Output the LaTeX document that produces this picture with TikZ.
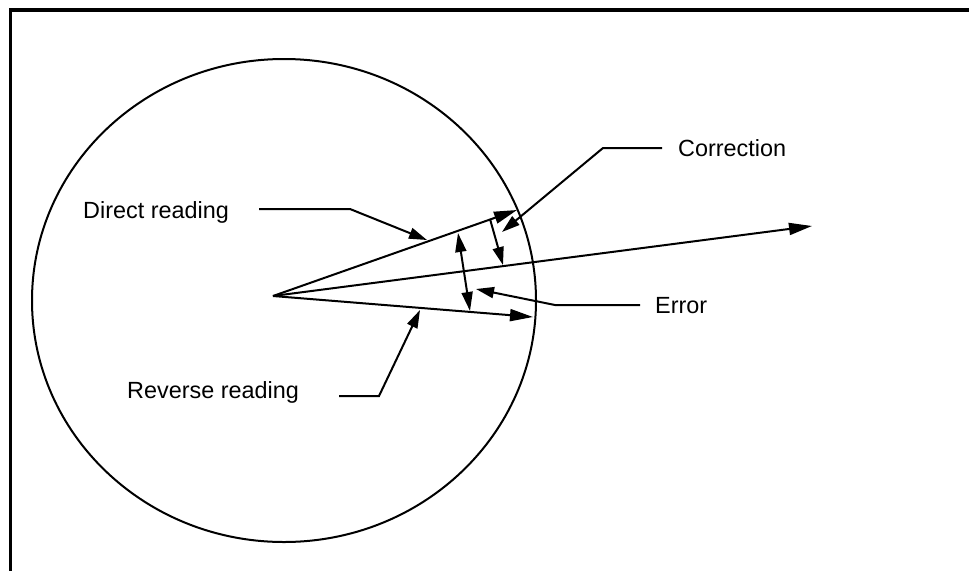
\documentclass[tikz,border=0pt]{standalone}
\usepackage{fontspec}
\setmainfont{Liberation Sans}
\usetikzlibrary{positioning}
\usetikzlibrary{arrows.meta}

\tikzset{
  lbl/.style={inner sep=0pt,anchor=base west,font=\fontsize{23.4}{28}\selectfont},
  ray/.style={line width=2pt,-{Triangle[length=23pt,width=12pt]}},
  lead/.style={line width=2pt,-{Triangle[length=18pt,width=11pt]}},
  twoway/.style={line width=2pt,{Triangle[length=19pt,width=11pt]}-{Triangle[length=19pt,width=11pt]}}
}

\begin{document}
\begin{tikzpicture}[x=1pt,y=-1pt]
        \useasboundingbox (0,0) rectangle (969,571);
        \draw[line width=4pt] (9,10) -- (969,10);
        \draw[line width=3pt] (10.5,8) -- (10.5,571);
        \draw[line width=2pt] (284,300.5) ellipse [x radius=252pt,y radius=241.5pt];

        \coordinate (O) at (273,296);
        \coordinate (D) at (517,210);
        \coordinate (M) at (812,226);
        \coordinate (R) at (533,317);
        \coordinate (C1) at (490,219);
        \coordinate (C2) at (503,265);
        \coordinate (E1) at (458,233);
        \coordinate (E2) at (470,311);

        \node[lbl] (direct) at (83,218) {Direct reading};
        \node[lbl] (reverse) at (127,398) {Reverse reading};
        \node[lbl] (correction) at (678,156) {Correction};
        \node[lbl] (error) at (655,313) {Error};

        \coordinate (dA) at (259,209);
        \coordinate (dB) at (350,209);
        \coordinate (dT) at (427,240);
        \coordinate (rA) at (339,396);
        \coordinate (rB) at (379,396);
        \coordinate (rT) at (420,310);
        \coordinate (cA) at (662,148);
        \coordinate (cB) at (603,148);
        \coordinate (cT) at (502,232);
        \coordinate (eA) at (640,305);
        \coordinate (eB) at (555,305);
        \coordinate (eT) at (476,289);

        \draw[ray] (O) -- (D);
        \draw[ray] (O) -- (M);
        \draw[ray] (O) -- (R);
        \draw[lead] (C1) -- (C2);
        \draw[twoway] (E1) -- (E2);

        \draw[lead] (dA) -- (dB) -- (dT);
        \draw[lead] (rA) -- (rB) -- (rT);
        \draw[lead] (cA) -- (cB) -- (cT);
        \draw[lead] (eA) -- (eB) -- (eT);
      \end{tikzpicture}
\end{document}
